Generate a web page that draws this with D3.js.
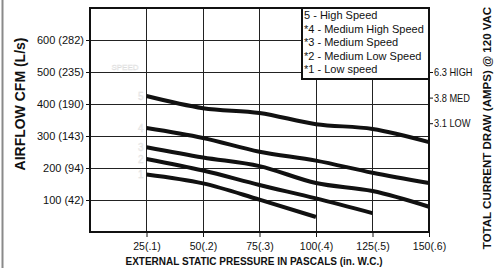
<!DOCTYPE html>
<html lang="en">
<head>
  <meta charset="UTF-8">
  <title>Blower performance</title>
  <script src="https://cdn.jsdelivr.net/npm/d3@7"></script>
  <style>
    body { margin: 0; background: #fff; }
    text { font-family: "Liberation Sans", Arial, Helvetica, sans-serif; fill: #111; }
    .grid line { stroke: #222; stroke-width: 1; shape-rendering: crispEdges; }
    .axis path { display: none; }
    .axis line { stroke: #111; }
    .curve { fill: none; stroke: #111; stroke-width: 4; }
    .title { font-weight: bold; }
    .faint { fill: #f6f6f6; stroke: #dcdcdc; stroke-width: 0.35; }
  </style>
</head>
<body>
<script>
  // data
  const pressures = [25, 50, 75, 100, 125, 150]
  const xTickLabels = ['25(.1)', '50(.2)', '75(.3)', '100(.4)', '125(.5)', '150(.6)']
  const cfmTicks = [100, 200, 300, 400, 500, 600]
  const cfmTickLabels = ['100 (42)', '200 (94)', '300 (143)', '400 (190)', '500 (235)', '600 (282)']
  const ampLabels = ['6.3 HIGH', '3.8 MED', '3.1 LOW']
  const speed5 = [425, 387, 372, 337, 322, 281]
  const speed4 = [325, 294, 251, 223, 185, 153]
  const speed3 = [265, 233, 206, 153, 128, 79]
  const speed2 = [228, 192, 147, 105, 59]
  const speed1 = [180, 152, 101, 47]
  const speedIds = ['5', '4', '3', '2', '1']
  const legendLabels = ['5 - High Speed', '*4 - Medium High Speed', '*3 - Medium Speed',
    '*2 - Medium Low Speed', '*1 - Low speed']

  const width = 497
  const height = 268
  const margin = { left: 90, top: 8, right: 68, bottom: 36 }
  const innerW = width - margin.left - margin.right
  const innerH = height - margin.top - margin.bottom

  const svg = d3.select('body').append('svg')
    .attr('width', width)
    .attr('height', height)

  // page frame line on the left
  svg.append('line')
    .attr('x1', 2.5).attr('x2', 2.5)
    .attr('y1', 0).attr('y2', height)
    .attr('stroke', '#8a8a8a').attr('stroke-width', 2)

  const x = d3.scaleLinear().domain([0, 150]).range([margin.left, margin.left + innerW])
  const y = d3.scaleLinear().domain([0, 700]).range([margin.top + innerH, margin.top])

  // grid
  const grid = svg.append('g').attr('class', 'grid')
  grid.selectAll('.v').data(pressures).enter().append('line')
    .attr('x1', d => x(d)).attr('x2', d => x(d))
    .attr('y1', y(0)).attr('y2', y(700))
  grid.selectAll('.h').data(cfmTicks).enter().append('line')
    .attr('x1', x(0)).attr('x2', x(150))
    .attr('y1', d => y(d)).attr('y2', d => y(d))

  // plot frame
  svg.append('rect')
    .attr('x', x(0)).attr('y', y(700))
    .attr('width', x(150) - x(0)).attr('height', y(0) - y(700))
    .attr('fill', 'none').attr('stroke', '#111').attr('stroke-width', 2)

  // axes
  svg.append('g')
    .attr('class', 'axis')
    .attr('transform', `translate(0,${y(0)})`)
    .call(d3.axisBottom(x).tickValues(pressures).tickSize(5).tickPadding(6)
      .tickFormat((d, i) => xTickLabels[i]))
    .selectAll('text').style('font-size', '10.5px')

  svg.append('g')
    .attr('class', 'axis')
    .attr('transform', `translate(${x(0)},0)`)
    .call(d3.axisLeft(y).tickValues(cfmTicks).tickSize(4).tickPadding(2)
      .tickFormat((d, i) => cfmTickLabels[i]))
    .selectAll('text').style('font-size', '11px')

  const amp = d3.scalePoint().domain(ampLabels).range([y(500), y(340)])
  const ampAxis = svg.append('g')
    .attr('class', 'axis')
    .attr('transform', `translate(${x(150)},0)`)
    .call(d3.axisRight(amp).tickSize(4).tickPadding(1))
  ampAxis.selectAll('text')
    .style('font-size', '11px')
    .each(function () {
      const len = this.getComputedTextLength()
      d3.select(this).attr('textLength', len * 0.84).attr('lengthAdjust', 'spacingAndGlyphs')
    })

  // curves
  const series = [speed5, speed4, speed3, speed2, speed1]
  const line = d3.line()
    .x((d, i) => x(pressures[i]))
    .y(d => y(d))
    .curve(d3.curveMonotoneX)

  svg.selectAll('.curve').data(series).enter().append('path')
    .attr('class', 'curve')
    .attr('d', line)

  // faint speed markers at curve starts
  svg.append('text')
    .attr('class', 'faint')
    .attr('x', x(25) - 8).attr('y', y(515))
    .attr('dy', '0.35em')
    .attr('text-anchor', 'end')
    .style('font-size', '8px')
    .text('SPEED')
  svg.selectAll('.sid').data(series).enter().append('text')
    .attr('class', 'faint')
    .attr('x', x(25) - 3)
    .attr('y', d => y(d[0]))
    .attr('dy', '0.35em')
    .attr('text-anchor', 'end')
    .style('font-size', '10px')
    .text((d, i) => speedIds[i])

  // legend
  const legW = 127
  const legH = 71
  const leg = svg.append('g')
    .attr('transform', `translate(${x(150) - legW},${y(700)})`)
  leg.append('rect')
    .attr('width', legW).attr('height', legH)
    .attr('fill', '#fff').attr('stroke', '#111').attr('stroke-width', 2)
  leg.selectAll('text').data(legendLabels).enter().append('text')
    .attr('x', 2)
    .attr('y', (d, i) => 11 + i * 13.6)
    .style('font-size', '11px')
    .text(d => d)

  // titles
  svg.append('text')
    .attr('class', 'title')
    .attr('transform', `translate(25,${(y(0) + y(700)) / 2 - 16}) rotate(-90)`)
    .attr('text-anchor', 'middle')
    .style('font-size', '14px')
    .text('AIRFLOW CFM (L/s)')

  svg.append('text')
    .attr('class', 'title')
    .attr('transform', `translate(491,128) rotate(-90)`)
    .attr('text-anchor', 'middle')
    .style('font-size', '11.5px')
    .text('TOTAL CURRENT DRAW (AMPS) @ 120 VAC')

  svg.append('text')
    .attr('class', 'title')
    .attr('x', 254).attr('y', 265)
    .attr('text-anchor', 'middle')
    .style('font-size', '10px')
    .text('EXTERNAL STATIC PRESSURE IN PASCALS (in. W.C.)')
</script>
</body>
</html>
